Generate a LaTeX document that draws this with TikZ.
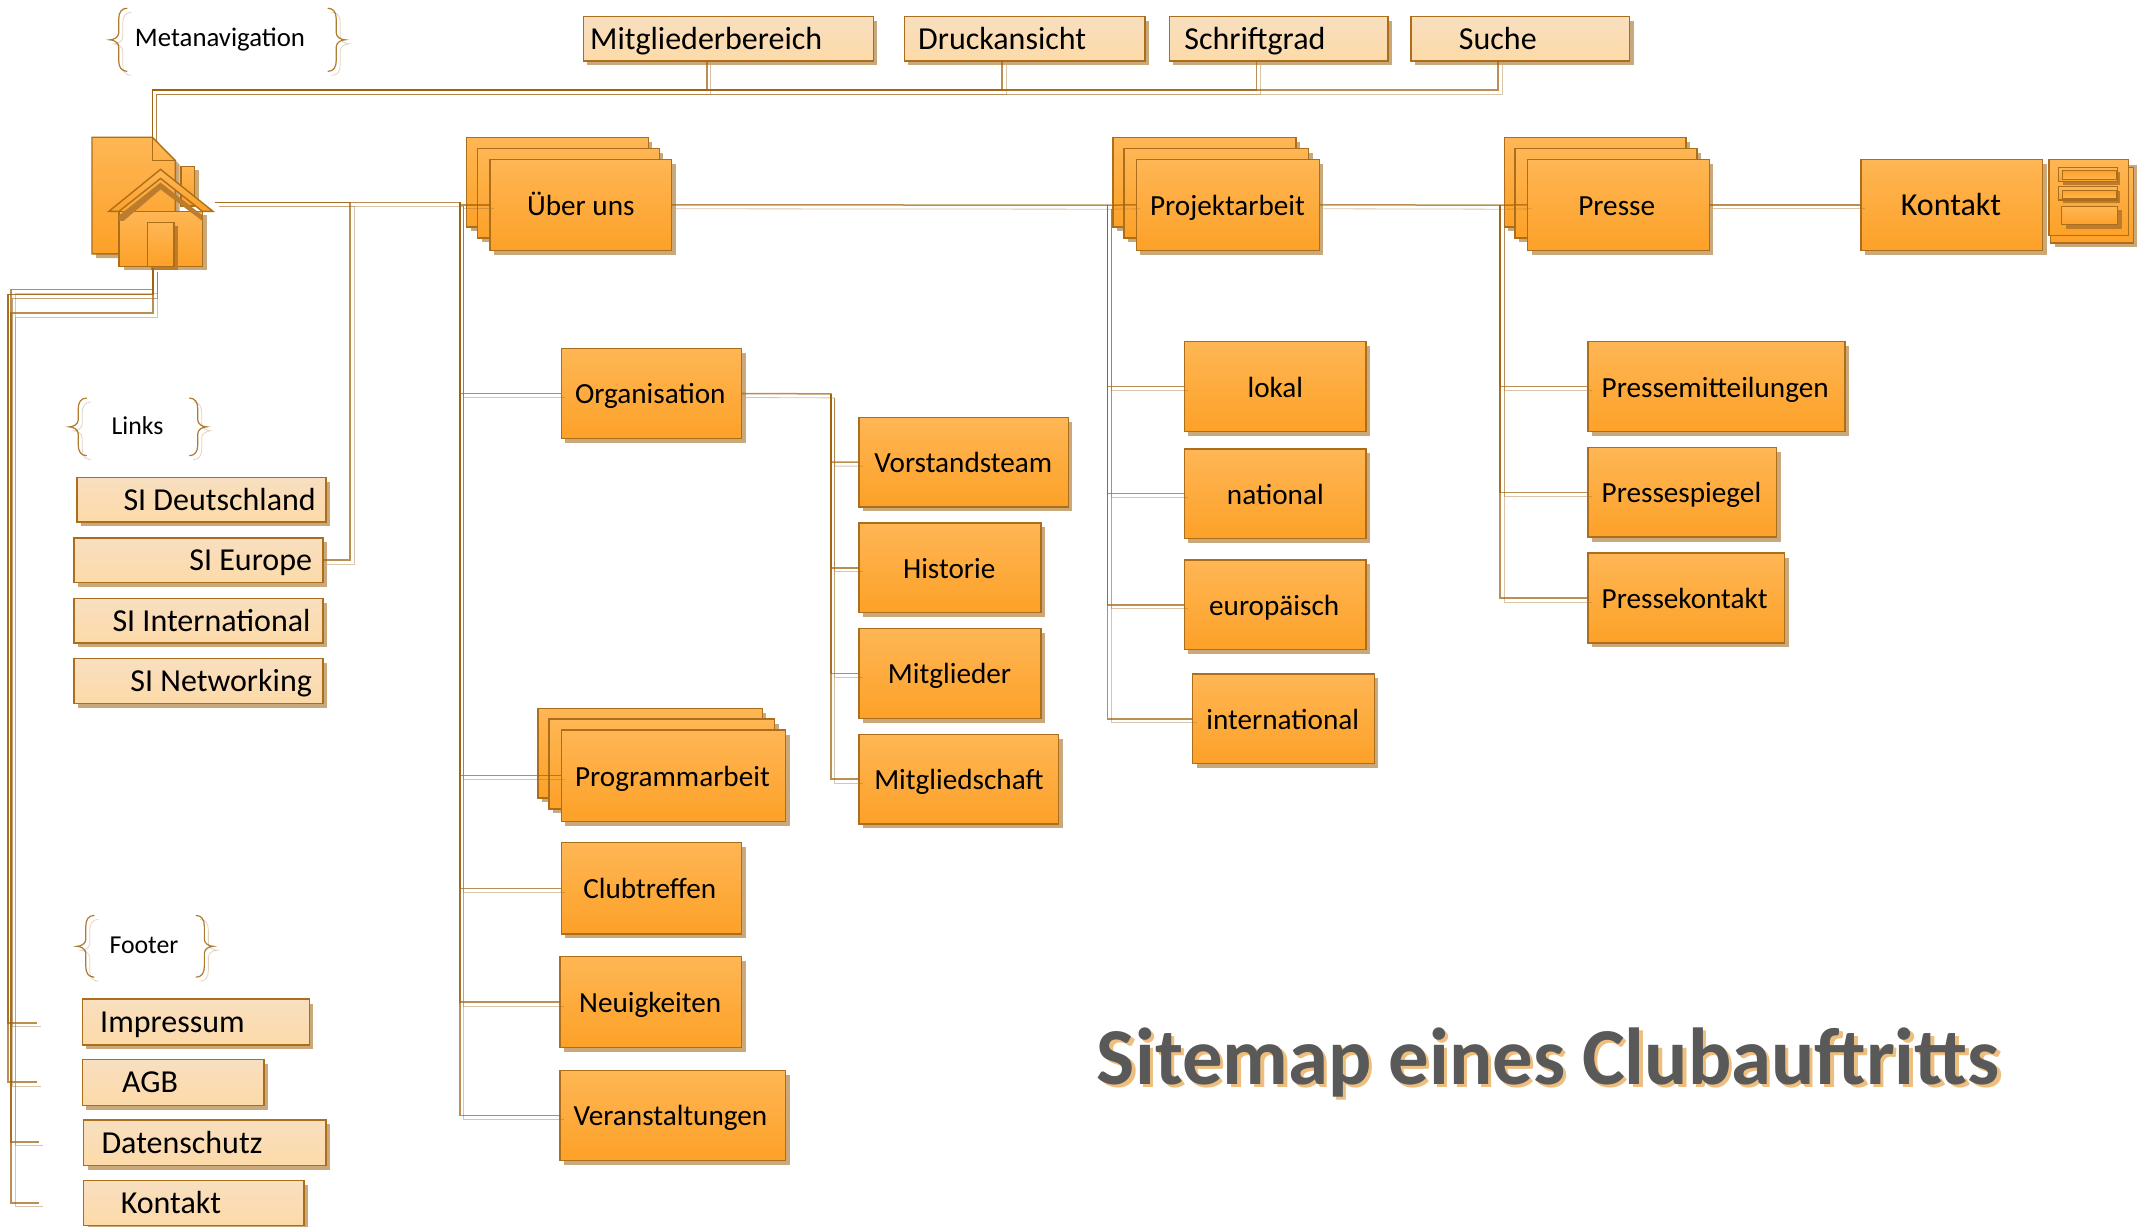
\documentclass[tikz,border=0pt]{standalone}
\usepackage{fontspec}
\setmainfont{Carlito}
\usetikzlibrary{shadows}
\definecolor{linec}{HTML}{A0640F}
\definecolor{shadc}{HTML}{A07030}
\definecolor{boxshadow}{HTML}{C9A87C}
\definecolor{bordc}{HTML}{AD6E1C}
\definecolor{orTop}{HTML}{FEB654}
\definecolor{orBot}{HTML}{FDA128}
\definecolor{liTop}{HTML}{F8DFC0}
\definecolor{liBot}{HTML}{FDDAA8}
\definecolor{darkshade}{HTML}{BC7C2C}
\definecolor{titlec}{HTML}{595959}
\definecolor{titles}{HTML}{EDBE7E}
\newfontfamily\titlefont{Carlito}[WordSpace=0.92]
\tikzset{
  boxbase/.style={draw=bordc,line width=.7pt,inner sep=0pt,outer sep=0pt,align=left,text=black,
    general shadow={shadow xshift=2pt,shadow yshift=-2.2pt,fill=boxshadow}},
  orangebox/.style={boxbase,top color=orTop,bottom color=orBot,font=\fontsize{14.6}{17}\selectfont},
  lightbox/.style={boxbase,top color=liTop,bottom color=liBot,font=\fontsize{16}{19}\selectfont},
  bigorange/.style={orangebox,font=\fontsize{16}{19}\selectfont},
  conn/.style={draw=linec,line width=.75pt,draw opacity=.72,
    preaction={draw=shadc,draw opacity=.4,transform canvas={xshift=2pt,yshift=-2pt}}},
  bracepath/.style={draw=linec,line width=.6pt,draw opacity=.85,
    preaction={draw=shadc,draw opacity=.3,transform canvas={xshift=2pt,yshift=-2pt}}},
  iconfill/.style={draw=bordc,line width=.7pt,top color=orTop,bottom color=orBot},
  iconshadow/.style={fill=boxshadow},
  darkfill/.style={fill=darkshade},
  grouplabel/.style={anchor=west,inner sep=0pt,font=\fontsize{12.9}{15}\selectfont},
  titletext/.style={anchor=west,inner sep=0pt,font=\titlefont\fontsize{40.4}{48}\selectfont\bfseries},
}
\newcommand\bx[8]{%
  \pgfmathsetmacro\wwd{(#4-#2-0.6)*0.6862}%
  \pgfmathsetmacro\hhd{(#5-#3-0.6)*0.6862}%
  \pgfmathsetmacro\padd{(#7-#2)*0.6862}%
  \node[#6,minimum width=\wwd pt,minimum height=\hhd pt,text width=\wwd pt] (#1)
    at ({(#2+#4)/2-0.3},{(#3+#5)/2-0.3}) {\spaceskip=.226em\relax\hspace*{\padd pt}\rule[-4pt]{0pt}{18.4pt}#8};}
\newcommand\brc[4]{%
  \draw[bracepath] ({#1+#4*12.7},#2)
    .. controls ({#1+#4*8.5},#2) and ({#1+#4*6.5},{#2+3}) .. ({#1+#4*6.5},{#2+8})
    -- ({#1+#4*6.5},{(#2+#3)/2-5})
    .. controls ({#1+#4*6.5},{(#2+#3)/2-2}) and ({#1+#4*3},{(#2+#3)/2}) .. (#1,{(#2+#3)/2})
    .. controls ({#1+#4*3},{(#2+#3)/2}) and ({#1+#4*6.5},{(#2+#3)/2+2}) .. ({#1+#4*6.5},{(#2+#3)/2+5})
    -- ({#1+#4*6.5},{#3-8})
    .. controls ({#1+#4*6.5},{#3-3}) and ({#1+#4*8.5},#3) .. ({#1+#4*12.7},#3);}
\begin{document}
\begin{tikzpicture}[x=0.6862pt,y=-0.6862pt]
\useasboundingbox (0,0) rectangle (1568,893.3);
\fill[white] (0,0) rectangle (1568,893.3);

% home icon
\fill[iconshadow] (70,103) -- (114,103) -- (130.8,120) -- (130.8,188) -- (70,188) -- cycle;
\shade[iconfill] (67,100) -- (111,100) -- (127.8,117) -- (127.8,185) -- (67,185) -- cycle;
\draw[draw=bordc,line width=.7pt] (111,100) -- (111,117) -- (127.8,117);
\fill[iconshadow] (135,124) rectangle (145,150);
\shade[iconfill] (132,121.2) rectangle (141.9,150);
\fill[iconshadow] (90,157) rectangle (150.5,197);
\shade[iconfill] (86.7,154) rectangle (147.5,194);
\fill[darkfill] (117,133) -- (147.5,157) -- (147.5,161) -- (117,138) -- (90,161) -- (86.7,161) -- (86.7,157) -- cycle;
\fill[darkfill] (110,165) rectangle (130,197);
\shade[iconfill] (107.4,162.3) rectangle (126.8,194);
\shade[iconfill] (117,123.4) -- (155.2,154) -- (147.5,154) -- (117,130) -- (86.7,154) -- (79.3,154) -- cycle;

% meta navigation
\bx{m1}{425}{12}{637}{45}{lightbox}{430}{Mitgliederbereich}
\bx{m2}{659}{12}{835}{45}{lightbox}{669}{Druckansicht}
\bx{m3}{852}{12}{1012}{45}{lightbox}{863}{Schriftgrad}
\bx{m4}{1028}{12}{1188}{45}{lightbox}{1063}{Suche}

% stacks
\bx{uberA}{340}{100}{473}{166}{orangebox}{340}{}
\bx{uberB}{348}{108}{481}{174}{orangebox}{348}{}
\bx{uber}{357}{116}{490}{183}{orangebox}{384}{Über uns}
\bx{projA}{811}{100}{945}{166}{orangebox}{811}{}
\bx{projB}{819}{108}{954}{174}{orangebox}{819}{}
\bx{proj}{828}{116}{962}{183}{orangebox}{838}{Projektarbeit}
\bx{presA}{1096}{100}{1229}{166}{orangebox}{1096}{}
\bx{presB}{1104}{108}{1237}{174}{orangebox}{1104}{}
\bx{pres}{1113}{116}{1246}{183}{orangebox}{1150}{Presse}
\bx{kont}{1356}{116}{1489}{183}{bigorange}{1385}{Kontakt}

% form icon
\fill[iconshadow] (1497,120) rectangle (1557,180);
\shade[iconfill] (1494,122) rectangle (1554.6,177);
\shade[iconfill] (1493,116) rectangle (1551,171.5);
\fill[darkfill] (1503,125) rectangle (1545,134.5);
\shade[iconfill] (1500,122) rectangle (1543,132.4);
\shade[draw=bordc,line width=.5pt,top color=orBot,bottom color=orTop] (1503,124.5) rectangle (1542,131);
\fill[darkfill] (1503,139) rectangle (1545,148);
\shade[iconfill] (1500,136) rectangle (1543,145.8);
\shade[draw=bordc,line width=.5pt,top color=orBot,bottom color=orTop] (1503,138.5) rectangle (1542,144.5);
\fill[darkfill] (1505,153) rectangle (1546,167);
\shade[iconfill] (1502,150.6) rectangle (1543,163.4);

% children
\bx{org}{409}{254}{541}{320}{orangebox}{419}{Organisation}
\bx{vor}{626}{304}{779}{370}{orangebox}{637}{Vorstandsteam}
\bx{his}{626}{381}{759}{447}{orangebox}{658}{Historie}
\bx{mit}{626}{458}{759}{524}{orangebox}{647}{Mitglieder}
\bx{msc}{626}{535}{772}{601}{orangebox}{637}{Mitgliedschaft}
\bx{progA}{392}{516}{556}{582}{orangebox}{392}{}
\bx{progB}{400}{524}{565}{590}{orangebox}{400}{}
\bx{prog}{409}{532}{573}{599}{orangebox}{419}{Programmarbeit}
\bx{clu}{409}{614}{541}{681}{orangebox}{425}{Clubtreffen}
\bx{neu}{408}{697}{541}{764}{orangebox}{422}{Neuigkeiten}
\bx{ver}{408}{780}{573}{846}{orangebox}{418}{Veranstaltungen}
\bx{lok}{863}{249}{996}{315}{orangebox}{909}{lokal}
\bx{nat}{863}{327}{996}{393}{orangebox}{894}{national}
\bx{eur}{863}{408}{996}{474}{orangebox}{881}{europäisch}
\bx{int}{869}{491}{1002}{557}{orangebox}{879}{international}
\bx{pmi}{1157}{249}{1345}{315}{orangebox}{1167}{Pressemitteilungen}
\bx{psp}{1157}{326}{1295}{392}{orangebox}{1167}{Pressespiegel}
\bx{pko}{1157}{403}{1301}{469}{orangebox}{1167}{Pressekontakt}

% links
\bx{sid}{56}{348}{238}{381}{lightbox}{90}{SI Deutschland}
\bx{sie}{54}{392}{236}{425}{lightbox}{138}{SI Europe}
\bx{sii}{54}{436}{236}{469}{lightbox}{82}{SI International}
\bx{sin}{54}{480}{236}{513}{lightbox}{95}{SI Networking}

% footer
\bx{imp}{60}{728}{226}{762}{lightbox}{73}{Impressum}
\bx{agb}{60}{772}{193}{806}{lightbox}{89}{AGB}
\bx{dat}{61}{816}{238}{850}{lightbox}{74}{Datenschutz}
\bx{fko}{61}{860}{222}{893.6}{lightbox}{88}{Kontakt}

% labels and braces
\node[grouplabel,font=\fontsize{13.4}{15}\selectfont] (lmeta) at (98,28.5) {Metanavigation};
\node[grouplabel] (llink) at (81,310) {Links};
\node[grouplabel] (lfoot) at (79.5,689) {Footer};
\brc{80}{6}{52}{1}
\brc{251.5}{6}{52}{-1}
\brc{50.5}{290}{332}{1}
\brc{150.6}{290}{332}{-1}
\brc{56}{667}{712}{1}
\brc{155.4}{667}{712}{-1}

% title
\node[titletext,text=titles] (titleshade) at (801.5,776.5) {Sitemap eines Clubauftritts};
\node[titletext,text=titlec] (title) at (799,774) {Sitemap eines Clubauftritts};

% connector points
\coordinate (hT) at (111,100);
\coordinate (hR) at (157,147.5);
\coordinate (hB) at (111.5,195);
\coordinate (j1) at (515,65.5);
\coordinate (j2) at (730.2,65.5);
\coordinate (j3) at (915.4,65.5);
\coordinate (j4) at (1091.6,65.5);
\coordinate (je) at (255,147.5);
\coordinate (ju) at (335,147.5);
\coordinate (jp) at (807,149.5);
\coordinate (jq) at (1093,149.5);
\coordinate (jo) at (605.3,287);
\coordinate (fa) at (6,214.4);
\coordinate (fb) at (8,211);
\coordinate (fc) at (8,228);
\coordinate (fimp) at (26.7,745.2);
\coordinate (fagb) at (26.7,788.4);
\coordinate (fdat) at (28.4,832);
\coordinate (fkon) at (28.4,876.4);

% connectors
\draw[conn] (hT) |- (j1) -- (j1 |- m1.south);
\draw[conn] (hT) |- (j2) -- (j2 |- m2.south);
\draw[conn] (hT) |- (j3) -- (j3 |- m3.south);
\draw[conn] (hT) |- (j4) -- (j4 |- m4.south);
\draw[conn] (hR) -- (je) |- (sie.east);
\draw[conn] (hR) -- (ju) |- (uber.west);
\draw[conn] (ju) |- (org.west);
\draw[conn] (ju) |- (prog.west);
\draw[conn] (ju) |- (clu.west);
\draw[conn] (ju) |- (neu.west);
\draw[conn] (ju) |- (ver.west);
\draw[conn] (org.east) -- (jo) |- (vor.west);
\draw[conn] (jo) |- (his.west);
\draw[conn] (jo) |- (mit.west);
\draw[conn] (jo) |- (msc.west);
\draw[conn] (uber.east) -- (jp) -- (proj.west);
\draw[conn] (jp) |- (lok.west);
\draw[conn] (jp) |- (nat.west);
\draw[conn] (jp) |- (eur.west);
\draw[conn] (jp) |- (int.west);
\draw[conn] (proj.east) -- (jq) -- (pres.west);
\draw[conn] (jq) |- (pmi.west);
\draw[conn] (jq) |- (psp.west);
\draw[conn] (jq) |- (pko.west);
\draw[conn] (pres.east) -- (kont.west);
\draw[conn] (hB) |- (fa) |- (fimp);
\draw[conn] (hB) |- (fa) |- (fagb);
\draw[conn] (hB) |- (fb) |- (fdat);
\draw[conn] (hB) |- (fc) |- (fkon);
\end{tikzpicture}
\end{document}
